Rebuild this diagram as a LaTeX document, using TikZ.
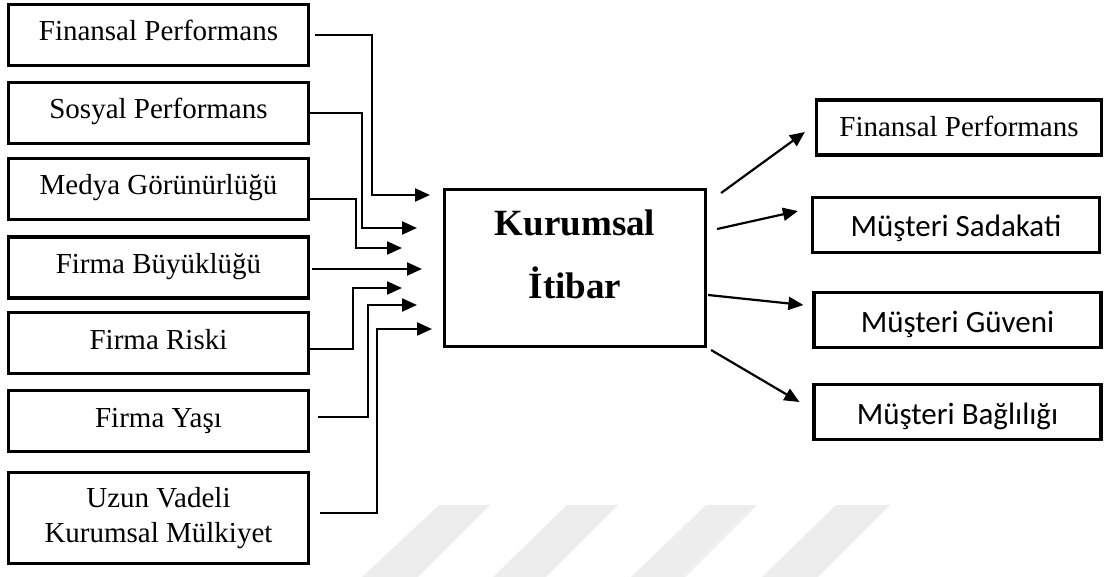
\documentclass[tikz,border=0pt]{standalone}
\usepackage{fontspec}
\setmainfont{Liberation Serif}
\newfontfamily\calfont{Carlito}
\usetikzlibrary{arrows.meta}
\tikzset{
  x=1pt, y=-1pt,
  lbase/.style={draw, line width=3.2pt, minimum width=300pt, minimum height=61pt, inner sep=0pt,
    font=\fontsize{29}{35}\selectfont, align=center},
  lbox/.style={lbase, text height=20pt, text depth=8pt},
  rbox/.style={draw, line width=3.2pt, minimum width=287pt, minimum height=55pt, inner sep=0pt,
    font=\calfont\fontsize{31}{36}\selectfont, text height=27pt, text depth=3pt},
  conn/.style={line width=2.2pt, -{Triangle[length=15pt,width=13pt]}},
  wmark/.style={fill=black!7, draw=none}
}
\begin{document}
\begin{tikzpicture}
\useasboundingbox (0,0) rectangle (1105,577);
% watermark
\fill[wmark] (439,505) -- (490,505) -- (418,577) -- (362,577) -- cycle;
\fill[wmark] (567,505) -- (618,505) -- (546,577) -- (493,577) -- cycle;
\fill[wmark] (706,505) -- (757,505) -- (685,577) -- (631,577) -- cycle;
\fill[wmark] (836,505) -- (890,505) -- (818,577) -- (762,577) -- cycle;
% left boxes
\node[lbox] (b1) at (158.5,35) {Finansal Performans};
\node[lbox] (b2) at (158.5,113) {Sosyal Performans};
\node[lbox] (b3) at (158.5,189) {Medya Görünürlüğü};
\node[lbox] (b4) at (158.5,267.5) {Firma Büyüklüğü};
\node[lbox] (b5) at (158.5,343) {Firma Riski};
\node[lbox] (b6) at (158.5,421) {Firma Yaşı};
\node[lbase, minimum height=91pt] (b7) at (158.5,518) {Uzun Vadeli\\Kurumsal Mülkiyet};
% centre
\node[draw, line width=3.2pt, minimum width=261pt, minimum height=157pt] (kb) at (575,268) {};
\node[font=\bfseries\fontsize{37}{63}\selectfont, align=center] (kbt) at (575,254) {Kurumsal\\İtibar};
% right boxes
\node[rbox, font=\fontsize{29}{35}\selectfont, text height=22pt, text depth=3pt, minimum width=285pt] (r1) at (959,127.5) {Finansal Performans};
\node[rbox] (r2) at (956,225) {Müşteri Sadakati};
\node[rbox] (r3) at (957.5,320) {Müşteri Güveni};
\node[rbox] (r4) at (957.5,412) {Müşteri Bağlılığı};
% tips on the left
\coordinate (t1) at (430,195);
\coordinate (t2) at (417,228);
\coordinate (t3) at (402,248);
\coordinate (t4) at (422,269);
\coordinate (t5) at (402,288);
\coordinate (t6) at (417,305);
\coordinate (t7) at (432,329);
\draw[conn] ([xshift=5pt]b1.east) -| (372,195) -- (t1);
\draw[conn] (b2.east) -| (362,228) -- (t2);
\draw[conn] ([yshift=-10pt]b3.east) -| (356,248) -- (t3);
\draw[conn] ([xshift=2pt,yshift=-1.5pt]b4.east) -- (t4);
\draw[conn] ([yshift=-6pt]b5.east) -| (353,288) -- (t5);
\draw[conn] ([xshift=8pt,yshift=4pt]b6.east) -| (368,305) -- (t6);
\draw[conn] ([xshift=10pt,yshift=5pt]b7.east) -| (377,329) -- (t7);
% right arrows
\draw[conn] ([xshift=14pt,yshift=75pt]kb.east) -- ([xshift=-10pt,yshift=-4.5pt]r1.west);
\draw[conn] ([xshift=10pt,yshift=39pt]kb.east) -- ([xshift=-13pt,yshift=14pt]r2.west);
\draw[conn] ([xshift=1pt,yshift=-27pt]kb.east) -- ([xshift=-9pt,yshift=15pt]r3.west);
\draw[conn] ([xshift=4pt,yshift=-82pt]kb.east) -- ([xshift=-13pt,yshift=10pt]r4.west);
\end{tikzpicture}
\end{document}
